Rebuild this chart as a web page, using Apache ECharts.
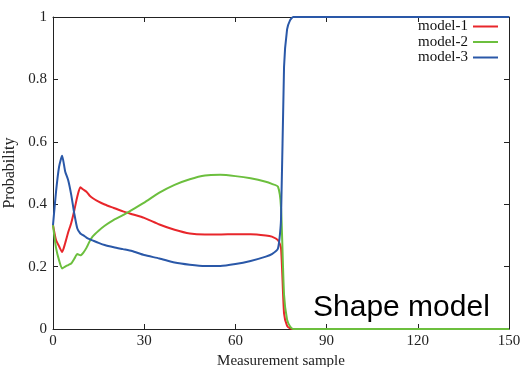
<!DOCTYPE html>
<html>
<head>
<meta charset="utf-8">
<script src="https://cdn.jsdelivr.net/npm/echarts@6/dist/echarts.min.js"></script>
<style>html,body{margin:0;padding:0;background:#fff}#c{width:524px;height:367px}</style>
</head>
<body>
<div id="c"></div>
<script>
var xs =     [0,    1,    2,    3,    4,    5,    6,    7,    8,    9,    10,   11,   12,   13,   15,   17,   20,   23,   26,   30,   35,   40,   45,   50,   55,   60,   65,   70,   72,   74,   75,   76,   77,   78,    79, 80, 150];
var model1 = [0.333,0.285,0.265,0.247,0.275,0.31, 0.34, 0.38, 0.425,0.454,0.447,0.44, 0.428,0.42, 0.408,0.399,0.388,0.377,0.368,0.356,0.335,0.318,0.306,0.303,0.303,0.304,0.304,0.300,0.296,0.285,0.26, 0.05, 0.01, 0.002, 0,  0,  0];
var model2 = [0.333,0.26, 0.22, 0.194,0.20, 0.205,0.21, 0.225,0.24, 0.236,0.245,0.26, 0.28, 0.296,0.315,0.331,0.35, 0.365,0.382,0.405,0.437,0.462,0.48, 0.492,0.494,0.49, 0.483,0.472,0.465,0.456,0.39, 0.11, 0.03, 0.008, 0,  0,  0];
var model3 = [0.333,0.44, 0.52, 0.555,0.505,0.477,0.43, 0.37, 0.322,0.306,0.300,0.293,0.288,0.284,0.276,0.269,0.262,0.256,0.250,0.237,0.226,0.213,0.206,0.202,0.202,0.208,0.218,0.232,0.240,0.258,0.35, 0.84, 0.96, 0.99,  1,  1,  1];
var seriesNames = ['model-1','model-2','model-3'];
var colors = ['#e8262b','#6cbf3e','#2a58a8'];
var xTicks = [0,30,60,90,120,150];
var yTicks = [0,0.2,0.4,0.6,0.8,1];

function pairs(v){ return xs.map(function(x,i){ return [x, v[i]]; }); }
var serif = 'Liberation Serif';
function axisCommon(){
  return {
    axisLine:{show:true,onZero:false,lineStyle:{color:'#222',width:1}},
    axisTick:{show:true,inside:true,length:5,lineStyle:{color:'#222'}},
    splitLine:{show:false}
  };
}
var chart = echarts.init(document.getElementById('c'));
chart.setOption({
  animation:false,
  backgroundColor:'#fff',
  grid:{left:53,right:15,top:17,bottom:38,containLabel:false,outerBoundsMode:'none'},
  legend:{
    orient:'vertical', right:25, top:19, align:'right', padding:0,
    itemWidth:25, itemHeight:13, itemGap:0.5,
    itemStyle:{opacity:0},
    textStyle:{fontFamily:serif,fontSize:15,lineHeight:13,color:'#111',padding:[0,0,0,0]},
    data:seriesNames
  },
  xAxis:[
    Object.assign({type:'value',min:0,max:150,interval:30,position:'bottom',
      name:'Measurement sample',nameLocation:'middle',nameGap:22,
      nameTextStyle:{fontFamily:serif,fontSize:15,color:'#222'},
      axisLabel:{fontFamily:serif,fontSize:15,color:'#222',margin:5,
        formatter:function(v){return xTicks.indexOf(v)>=0?String(v):'';}}},axisCommon()),
    Object.assign({type:'value',min:0,max:150,interval:30,position:'top',axisLabel:{show:false}},axisCommon())
  ],
  yAxis:[
    Object.assign({type:'value',min:0,max:1,interval:0.2,position:'left',
      name:'Probability',nameLocation:'middle',nameGap:28,nameRotate:90,
      nameTextStyle:{fontFamily:serif,fontSize:16,color:'#222'},
      axisLabel:{fontFamily:serif,fontSize:15,color:'#222',margin:6,
        formatter:function(v){return String(Math.round(v*10)/10);}}},axisCommon()),
    Object.assign({type:'value',min:0,max:1,interval:0.2,position:'right',axisLabel:{show:false}},axisCommon())
  ],
  series:[model1,model2,model3].map(function(v,i){
    return {name:seriesNames[i],type:'line',data:pairs(v),showSymbol:false,symbol:'none',
      smooth:0.2,color:colors[i],lineStyle:{width:2,color:colors[i]},xAxisIndex:0,yAxisIndex:0,z:2+i};
  }),
  graphic:[{type:'text',left:313,top:293,style:{text:'Shape model',fontFamily:'Liberation Sans',fontSize:30,fill:'#000'}}]
});
</script>
</body>
</html>
